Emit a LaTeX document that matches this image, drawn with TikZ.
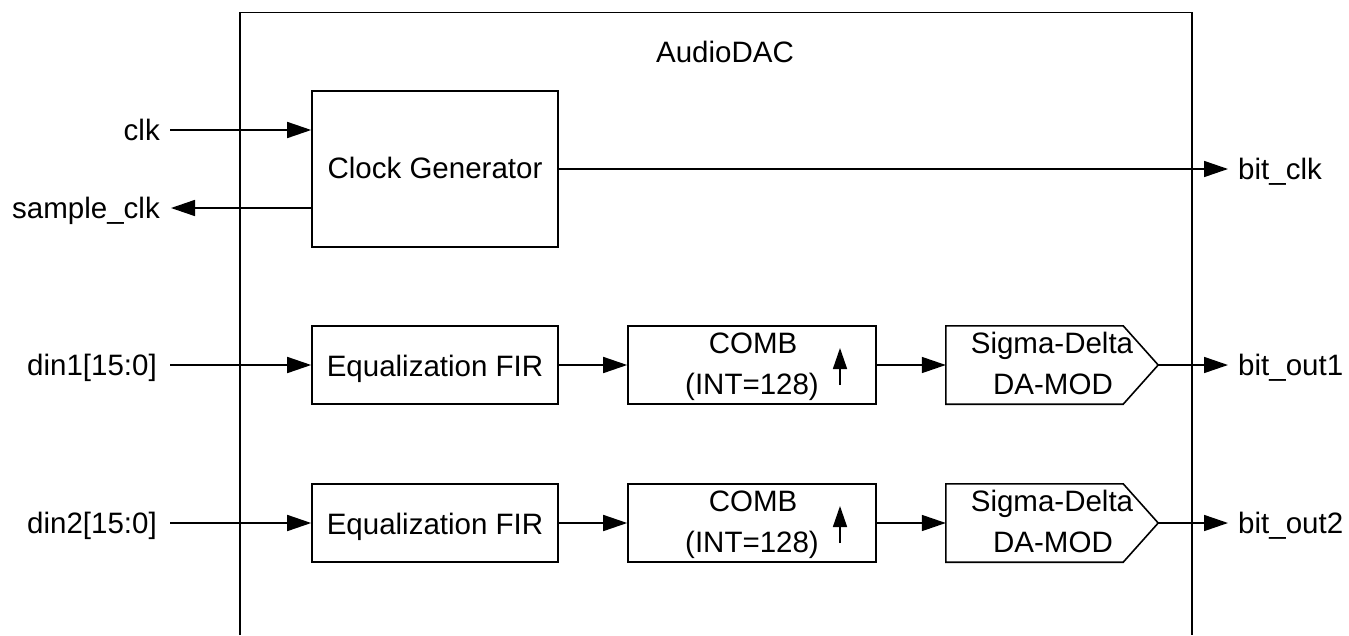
\documentclass[tikz,border=0pt]{standalone}
\usepackage{fontspec}
\setmainfont{Liberation Sans}
\usetikzlibrary{arrows.meta}
\begin{document}
\begin{tikzpicture}[x=1pt,y=-1pt,
  ln/.style={line width=1.6pt},
  blk/.style={draw, ln, minimum width=246pt, minimum height=78pt, inner sep=0pt},
  txt/.style={anchor=base, inner sep=0pt, font=\fontsize{29.5}{34}\selectfont},
  lbl/.style={inner sep=0pt, font=\fontsize{29.5}{34}\selectfont},
  arr/.style={ln, -{Triangle[length=24pt,width=16pt]}},
  uparr/.style={ln, -{Triangle[length=21pt,width=14pt]}}]
\fill[white] (0,0) rectangle (1349,635);
\useasboundingbox (0,0) rectangle (1349,635);

% outer AudioDAC frame (open at the bottom)
\coordinate (oA) at (240,635);
\coordinate (oB) at (240,12.5);
\coordinate (oC) at (1192,12.5);
\coordinate (oD) at (1192,635);
\draw[ln, line join=miter] (oA) -- (oB) -- (oC) -- (oD);
\node[txt] (title) at (725,62) {AudioDAC};

% clock generator
\node[blk, minimum height=156pt] (cg) at (435,169) {};
\node[txt] (cgt) at (435,178) {Clock Generator};

% row blocks
\foreach \r/\y in {1/365,2/523}{
  \node[blk] (eq\r) at (435,\y) {};
  \node[txt] (eqt\r) at (435,\y+11) {Equalization FIR};
  \node[blk, minimum width=248pt] (comb\r) at (752,\y) {};
  \node[txt] (combta\r) at (753,\y-12) {COMB};
  \node[txt] (combtb\r) at (752,\y+29) {(INT=128)};
  \draw[uparr] ([xshift=88pt,yshift=-20pt]comb\r.center) -- ([xshift=88pt,yshift=17pt]comb\r.center);
  \node[minimum width=212pt, minimum height=78pt, inner sep=0pt] (sd\r) at (1052,\y) {};
  \draw[ln, line join=miter] (sd\r.north west) -- ([xshift=-35pt]sd\r.north east) -- (sd\r.east)
     -- ([xshift=-35pt]sd\r.south east) -- (sd\r.south west) -- cycle;
  \node[txt] (sdta\r) at (1052,\y-12) {Sigma-Delta};
  \node[txt] (sdtb\r) at (1053,\y+29) {DA-MOD};
}

% port labels
\node[lbl, anchor=base east] (clkL) at (160,140) {clk};
\node[lbl, anchor=base east] (sclkL) at (160,218) {sample\_clk};
\node[lbl, anchor=base east] (din1L) at (157,375) {din1[15:0]};
\node[lbl, anchor=base east] (din2L) at (157,533) {din2[15:0]};
\node[lbl, anchor=base west] (bclkL) at (1238,179) {bit\_clk};
\node[lbl, anchor=base west] (bo1L) at (1238,375) {bit\_out1};
\node[lbl, anchor=base west] (bo2L) at (1238,533) {bit\_out2};

% free ends
\coordinate (clkin) at (170,130);
\coordinate (sclkout) at (171,208);
\coordinate (din1in) at (170,365);
\coordinate (din2in) at (170,523);
\coordinate (bclkout) at (1228,169);
\coordinate (bo1out) at (1228,365);
\coordinate (bo2out) at (1228,523);

% connectors
\draw[arr] (clkin) -- (cg.west |- clkin);
\draw[arr] (cg.west |- sclkout) -- (sclkout);
\draw[arr] (cg.east) -- (bclkout);
\draw[arr] (din1in) -- (eq1.west);
\draw[arr] (din2in) -- (eq2.west);
\foreach \r in {1,2}{
  \draw[arr] (eq\r.east) -- (comb\r.west);
  \draw[arr] (comb\r.east) -- (sd\r.west);
}
\draw[arr] (sd1.east) -- (bo1out);
\draw[arr] (sd2.east) -- (bo2out);
\end{tikzpicture}
\end{document}
